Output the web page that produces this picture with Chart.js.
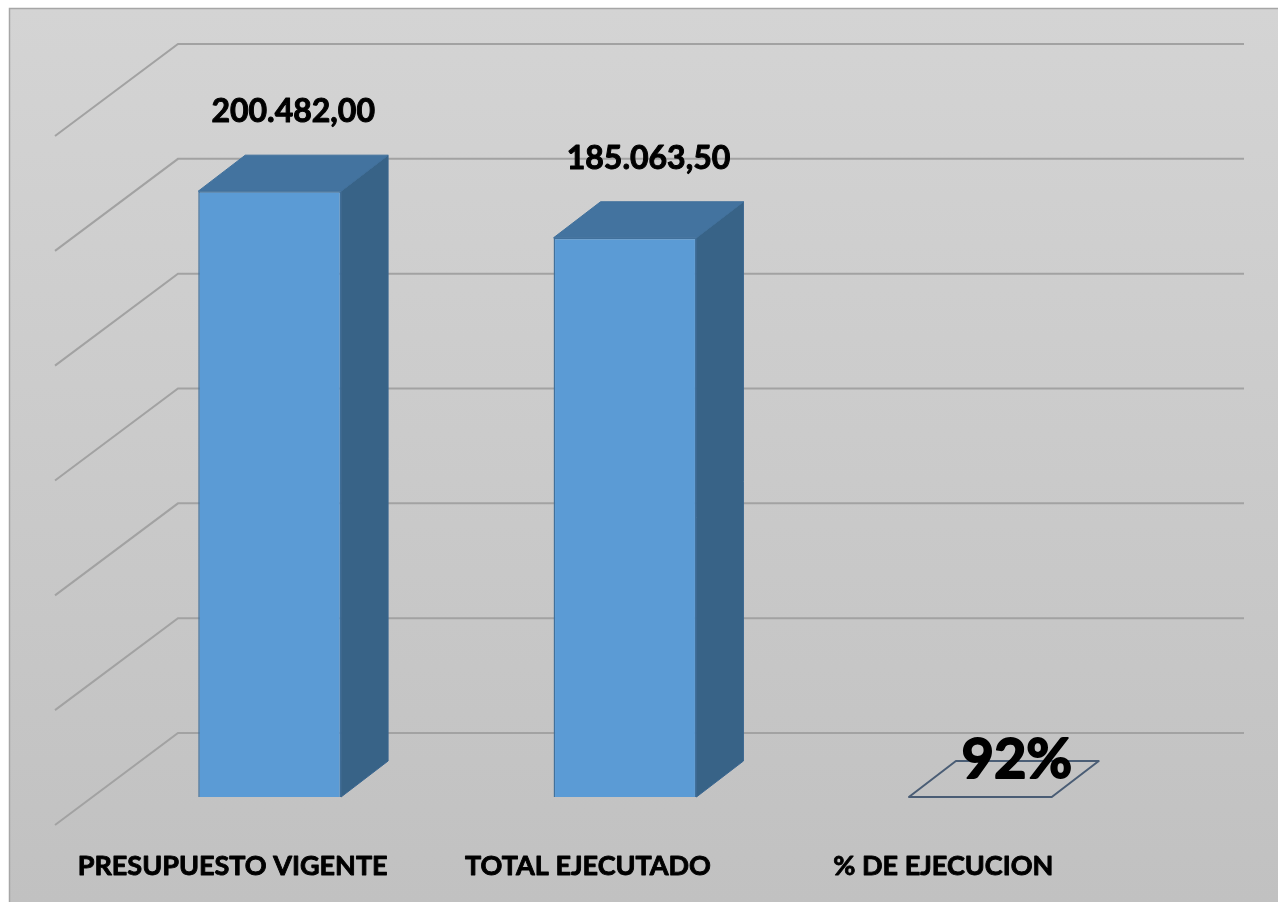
<!DOCTYPE html>
<html lang="es">
<head>
<meta charset="UTF-8">
<title>Ejecución presupuestaria</title>
<script src="https://cdn.jsdelivr.net/npm/chart.js"></script>
<style>
  html, body { margin: 0; padding: 0; background: #fff; }
  canvas { display: block; }
</style>
</head>
<body>
<canvas id="grafico" width="1278" height="902"></canvas>
<script>
const categorias = ['PRESUPUESTO VIGENTE', 'TOTAL EJECUTADO', '% DE EJECUCION'];
const valores = [200482, 185063.5, 0.92];
const formatos = ['monto', 'monto', 'porcentaje'];
const ejeMax = 228000;
const ejePaso = 38000;

// desplazamientos de la vista 3D (fondo de la barra, pared del fondo, borde del piso)
const PROF_BARRA = { dx: 47, dy: -36 };
const PARED = { dx: 86, dy: -64 };
const PISO = { dx: -37, dy: 28 };

// tamaño y posicion de cada etiqueta de valor
const estiloEtiquetas = [
  { size: 32, lift: 61, dx: 0 },
  { size: 32, lift: 61, dx: 0 },
  { size: 56, lift: 19, dx: 13 }
];

function formatoMonto(v) {
  const partes = v.toFixed(2).split('.');
  const entero = partes[0].replace(/\B(?=(\d{3})+(?!\d))/g, '.');
  return entero + ',' + partes[1];
}

function etiqueta(i) {
  if (formatos[i] === 'porcentaje') return Math.round(valores[i] * 100) + '%';
  return formatoMonto(valores[i]);
}

// texto negrita un poco mas grueso (parecido a Calibri bold)
function textoGrueso(ctx, txt, x, y, grosor) {
  ctx.lineWidth = grosor;
  ctx.lineJoin = 'round';
  ctx.strokeStyle = '#000';
  ctx.strokeText(txt, x, y);
  ctx.fillText(txt, x, y);
}

const vista3d = {
  id: 'vista3d',
  beforeDraw(chart) {
    const ctx = chart.ctx;
    const w = chart.width, h = chart.height;
    ctx.save();
    ctx.fillStyle = '#fff';
    ctx.fillRect(0, 0, w, h);
    const g = ctx.createLinearGradient(0, 8, 0, h);
    g.addColorStop(0, '#d4d4d4');
    g.addColorStop(1, '#c1c1c1');
    ctx.fillStyle = g;
    ctx.fillRect(9, 8, w - 9, h - 8);
    ctx.strokeStyle = '#a6a6a6';
    ctx.lineWidth = 1.5;
    ctx.beginPath();
    ctx.moveTo(9.5, h);
    ctx.lineTo(9.5, 8.5);
    ctx.lineTo(w, 8.5);
    ctx.stroke();
    ctx.restore();
  },
  beforeDatasetsDraw(chart) {
    const { ctx, chartArea: a, scales: { x, y } } = chart;
    ctx.save();
    ctx.strokeStyle = '#a2a2a2';
    ctx.lineWidth = 2;
    let marcas = y.ticks.map(t => t.value);
    if (!marcas.length) {
      for (let v = 0; v <= ejeMax; v += ejePaso) marcas.push(v);
    }
    marcas.forEach(v => {
      const py = y.getPixelForValue(v);
      ctx.beginPath();
      ctx.moveTo(a.left + PISO.dx, py + PISO.dy);
      ctx.lineTo(a.left + PARED.dx, py + PARED.dy);
      ctx.lineTo(a.right + PARED.dx, py + PARED.dy);
      ctx.stroke();
    });

    // nombres de las categorias, al borde del piso
    ctx.fillStyle = '#000';
    ctx.font = 'bold 27px Lato';
    ctx.textAlign = 'center';
    ctx.textBaseline = 'middle';
    categorias.forEach((c, i) => {
      textoGrueso(ctx, c, x.getPixelForValue(i) + PISO.dx, a.bottom + 69, 0.9);
    });
    ctx.restore();
  },
  afterDatasetsDraw(chart) {
    const ctx = chart.ctx;
    const meta = chart.getDatasetMeta(0);
    ctx.save();
    meta.data.forEach((el, i) => {
      const { x, y: top, base, width } = el.getProps(['x', 'y', 'base', 'width'], true);
      const x1 = x - width / 2, x2 = x + width / 2;
      const bx = PROF_BARRA.dx, by = PROF_BARRA.dy;
      const plana = base - top < 1;

      if (!plana) {
        ctx.beginPath();
        ctx.moveTo(x2, top);
        ctx.lineTo(x2 + bx, top + by);
        ctx.lineTo(x2 + bx, base + by);
        ctx.lineTo(x2, base);
        ctx.closePath();
        ctx.fillStyle = '#386387';
        ctx.fill();
        ctx.strokeStyle = '#3a6690';
        ctx.lineWidth = 1;
        ctx.stroke();
      }

      ctx.beginPath();
      ctx.moveTo(x1, top);
      ctx.lineTo(x2, top);
      ctx.lineTo(x2 + bx, top + by);
      ctx.lineTo(x1 + bx, top + by);
      ctx.closePath();
      if (plana) {
        ctx.strokeStyle = '#4a5d75';
        ctx.lineWidth = 2;
        ctx.stroke();
      } else {
        ctx.fillStyle = '#43739f';
        ctx.fill();
        ctx.strokeStyle = '#41719c';
        ctx.lineWidth = 1;
        ctx.stroke();
      }

      const s = estiloEtiquetas[i];
      ctx.fillStyle = '#000';
      ctx.font = 'bold ' + s.size + 'px Lato';
      ctx.textAlign = 'center';
      ctx.textBaseline = 'middle';
      textoGrueso(ctx, etiqueta(i), x + bx / 2 + s.dx, top + by / 2 - s.lift, s.size > 40 ? 1.8 : 1);
    });
    ctx.restore();
  }
};

new Chart(document.getElementById('grafico'), {
  type: 'bar',
  data: {
    labels: categorias,
    datasets: [{
      data: valores,
      backgroundColor: '#5b9bd5',
      borderColor: '#41719c',
      borderWidth: 1.5,
      categoryPercentage: 1,
      barPercentage: 0.402
    }]
  },
  options: {
    responsive: false,
    animation: false,
    layout: { padding: { left: 92, right: 120, top: 108, bottom: 105 } },
    plugins: {
      legend: { display: false },
      tooltip: { enabled: false }
    },
    scales: {
      x: { display: false },
      y: { display: false, min: 0, max: ejeMax, ticks: { stepSize: ejePaso } }
    }
  },
  plugins: [vista3d]
});
</script>
</body>
</html>
